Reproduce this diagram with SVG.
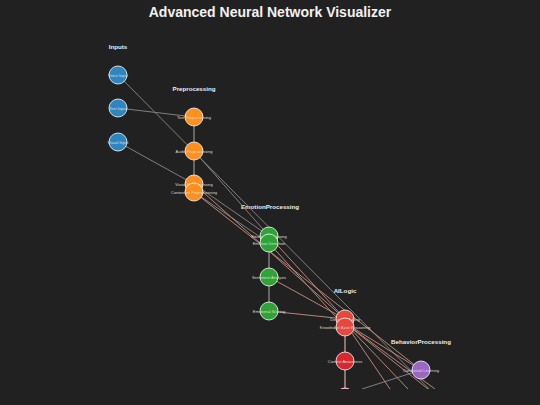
<svg xmlns="http://www.w3.org/2000/svg" width="540" height="405" viewBox="0 0 540 405">
<defs>
<style>
.t{font-family:"Liberation Sans",Arial,sans-serif;font-weight:bold;fill:#f2f2f2;text-anchor:middle}
.h{font-family:"Liberation Sans",Arial,sans-serif;font-weight:bold;font-size:6.2px;fill:#eeeeee;text-anchor:middle}
.l{font-family:"Liberation Sans",Arial,sans-serif;font-size:4px;fill:#dddddd;text-anchor:middle;dominant-baseline:central}
circle{stroke:#ffffff;stroke-width:0.8}
.b{fill:#2e86c1}.o{fill:#ff8f1f}.g{fill:#2ea336}.r{fill:#e8473b}.p{fill:#9b67c6}
.e{stroke:#8a8a8a;stroke-width:0.9;fill:none}
.v{stroke:#6e6e6e;stroke-width:1.8;fill:none}
.s{stroke:#c99080;stroke-width:0.9;fill:none}
.vs{stroke:#9c7a76;stroke-width:1.8;fill:none}
</style>
<clipPath id="plot"><rect x="0" y="0" width="540" height="389"/></clipPath>
</defs>
<rect width="540" height="405" fill="#212121"/>
<text class="t" x="270" y="17" font-size="14">Advanced Neural Network Visualizer</text>
<g id="headers">
<text class="h" x="118" y="49">Inputs</text>
<text class="h" x="194" y="91">Preprocessing</text>
<text class="h" x="270" y="209">EmotionProcessing</text>
<text class="h" x="345" y="293">AILogic</text>
<text class="h" x="421" y="344">BehaviorProcessing</text>
</g>
<g clip-path="url(#plot)">
<g id="connectors">
<line class="v" x1="194" y1="117" x2="194" y2="151"/>
<line class="v" x1="194" y1="151" x2="194" y2="184"/>
<line class="v" x1="269" y1="243" x2="269" y2="277"/>
<line class="v" x1="269" y1="277" x2="269" y2="311"/>
<line class="vs" x1="345" y1="327" x2="345" y2="361"/>
<line class="vs" x1="345" y1="361" x2="345" y2="397"/>
<line class="e" x1="118" y1="75" x2="460" y2="420"/>
<line class="e" x1="118" y1="108" x2="194" y2="117"/>
<line class="e" x1="118" y1="142" x2="194" y2="184"/>
<line class="e" x1="194" y1="151" x2="269" y2="236"/>
<line class="e" x1="194" y1="184" x2="269" y2="236"/>
<line class="e" x1="194" y1="192" x2="269" y2="243"/>
<line class="e" x1="362" y1="389" x2="421" y2="370"/>
<line class="s" x1="194" y1="192" x2="421" y2="370"/>
<line class="s" x1="194" y1="184" x2="345" y2="319"/>
<line class="s" x1="269" y1="236" x2="345" y2="319"/>
<line class="s" x1="269" y1="243" x2="345" y2="327"/>
<line class="s" x1="269" y1="277" x2="345" y2="319"/>
<line class="s" x1="269" y1="311" x2="345" y2="319"/>
<line class="s" x1="345" y1="323" x2="421" y2="370"/>
<line class="s" x1="345" y1="323" x2="390" y2="389"/>
<line class="s" x1="345" y1="323" x2="408" y2="389"/>
<line class="s" x1="345" y1="323" x2="428" y2="389"/>
<line class="s" x1="345" y1="323" x2="435" y2="389"/>
</g>
<g id="n-voice"><circle class="b" cx="118" cy="75" r="9"/><text class="l" x="118" y="75">Voice Input</text></g>
<g id="n-text"><circle class="b" cx="118" cy="108" r="9"/><text class="l" x="118" y="108">Text Input</text></g>
<g id="n-visual"><circle class="b" cx="118" cy="142" r="9"/><text class="l" x="118" y="142">Visual Input</text></g>
<g id="n-textprep"><circle class="o" cx="194" cy="117" r="9"/><text class="l" x="194" y="117">Text Preprocessing</text></g>
<g id="n-audioprep"><circle class="o" cx="194" cy="151" r="9"/><text class="l" x="194" y="151">Audio Preprocessing</text></g>
<g id="n-visualprep"><circle class="o" cx="194" cy="184" r="9"/><text class="l" x="194" y="184">Visual Preprocessing</text></g>
<g id="n-contextprep"><circle class="o" cx="194" cy="192" r="9"/><text class="l" x="194" y="192">Contextual Preprocessing</text></g>
<g id="n-emoproc"><circle class="g" cx="269" cy="236" r="9"/><text class="l" x="269" y="236">Emotion Processing</text></g>
<g id="n-emodet"><circle class="g" cx="269" cy="243" r="9"/><text class="l" x="269" y="243">Emotion Detection</text></g>
<g id="n-sentiment"><circle class="g" cx="269" cy="277" r="9"/><text class="l" x="269" y="277">Sentiment Analysis</text></g>
<g id="n-scoring"><circle class="g" cx="269" cy="311" r="9"/><text class="l" x="269" y="311">Emotional Scoring</text></g>
<g id="n-decision"><circle class="r" cx="345" cy="319" r="9"/><text class="l" x="345" y="319">Decision Making</text></g>
<g id="n-knowledge"><circle class="r" cx="345" cy="327" r="9"/><text class="l" x="345" y="327">Knowledge Base Reasoning</text></g>
<g id="n-context"><circle class="r" cx="345" cy="361" r="9" style="fill:#d9282b"/><text class="l" x="345" y="361">Context Awareness</text></g>
<g id="n-hidden"><circle class="r" cx="345" cy="397" r="9"/></g>
<g id="n-ctxlearn"><circle class="p" cx="421" cy="370" r="9"/><text class="l" x="421" y="370">Contextual Learning</text></g>
</g>
</svg>
